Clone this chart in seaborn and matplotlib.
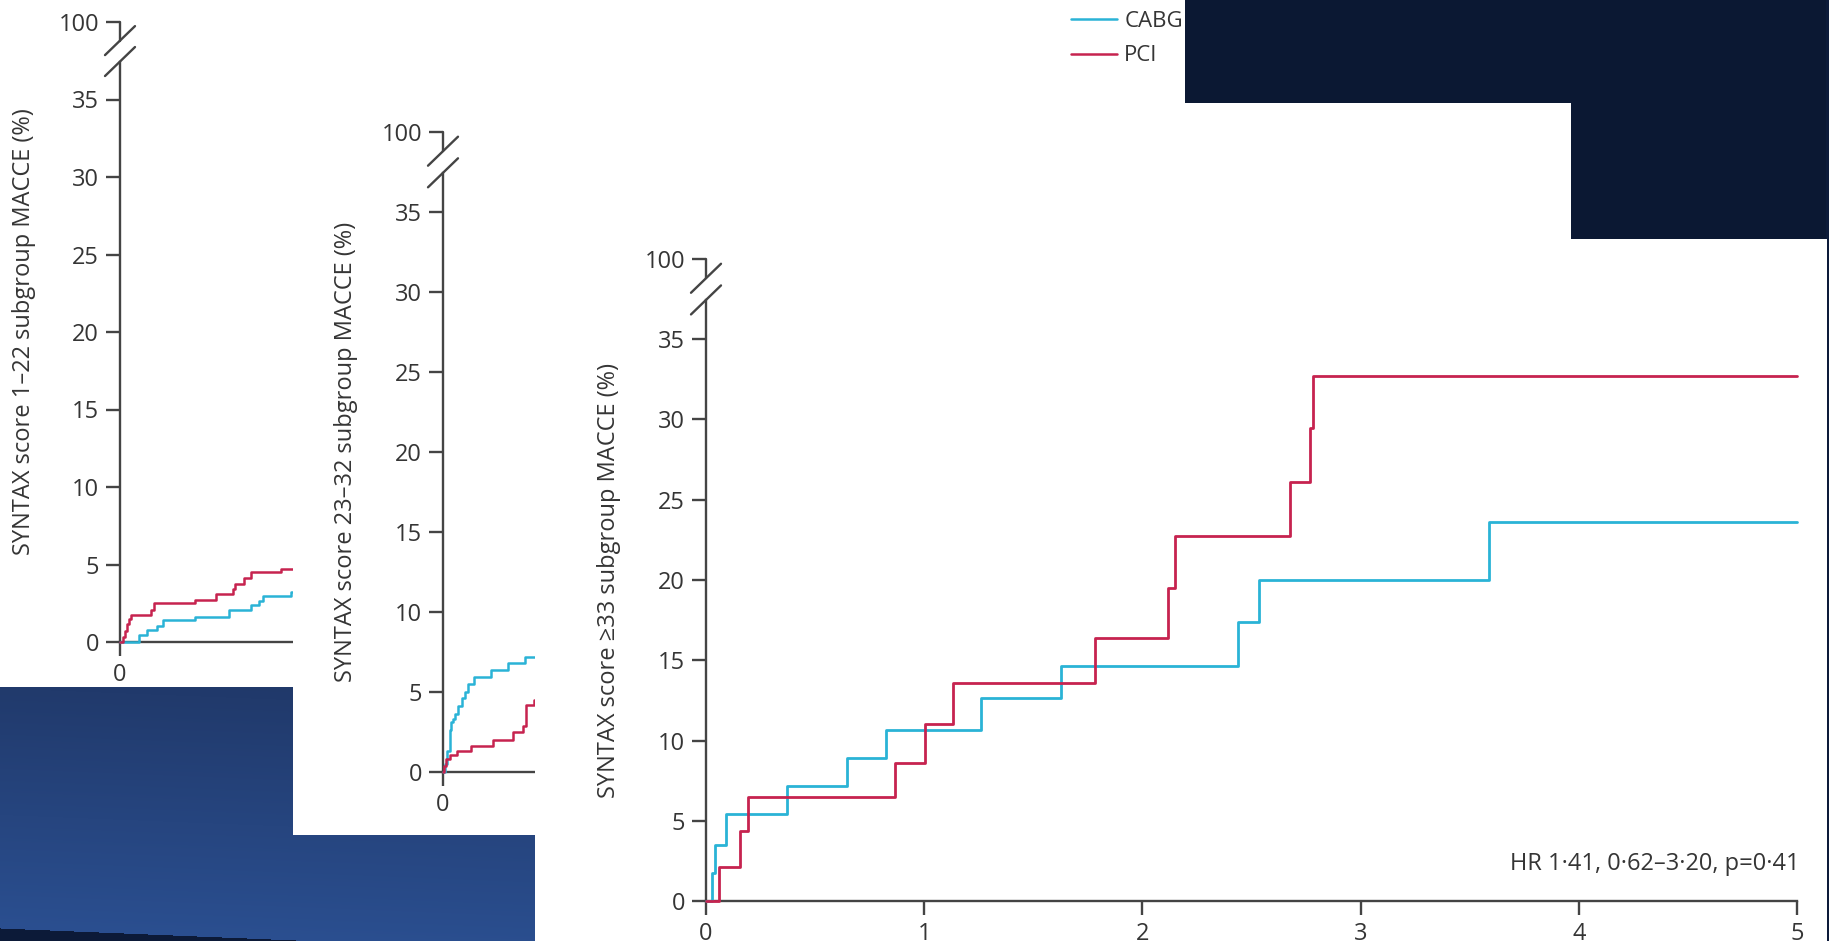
import numpy as np
import pandas as pd
import matplotlib
matplotlib.use("Agg")
import matplotlib.pyplot as plt
import matplotlib.transforms as mtransforms
from matplotlib.lines import Line2D
from matplotlib.patches import Rectangle
import seaborn as sns

# ---------------- data: cumulative MACCE (%) by years since randomisation ----------------
# SYNTAX score 1-22
low_cabg_t = [0, 0.091, 0.129, 0.174, 0.205, 0.355, 0.518, 0.621, 0.658, 0.678, 0.81, 0.85]
low_cabg_v = [0, 0.43, 0.78, 1.06, 1.41, 1.64, 2.04, 2.39, 2.67, 3.0, 3.2, 3.2]
low_pci_t = [0, 0.012, 0.022, 0.031, 0.042, 0.054, 0.145, 0.163, 0.355, 0.455, 0.536, 0.545, 0.589, 0.621, 0.766, 0.85]
low_pci_v = [0, 0.3, 0.7, 1.15, 1.5, 1.75, 2.05, 2.5, 2.7, 3.1, 3.4, 3.75, 4.1, 4.5, 4.7, 4.7]

# SYNTAX score 23-32
mid_cabg_t = [0, 0.008, 0.02, 0.03, 0.038, 0.047, 0.055, 0.07, 0.088, 0.1, 0.116, 0.14, 0.22, 0.295, 0.376, 0.45]
mid_cabg_v = [0, 0.5, 1.3, 2.6, 3.1, 3.3, 3.6, 4.1, 4.6, 5.0, 5.5, 5.95, 6.4, 6.8, 7.2, 7.2]
mid_pci_t = [0, 0.006, 0.012, 0.03, 0.065, 0.13, 0.229, 0.32, 0.365, 0.378, 0.415, 0.45]
mid_pci_v = [0, 0.4, 0.8, 1.05, 1.3, 1.65, 2.0, 2.5, 2.9, 4.2, 4.5, 4.5]

# SYNTAX score >=33
high_cabg_t = [0, 0.028, 0.042, 0.091, 0.373, 0.646, 0.824, 1.26, 1.627, 2.439, 2.534, 3.588, 5]
high_cabg_v = [0, 1.73, 3.5, 5.4, 7.14, 8.88, 10.66, 12.65, 14.67, 17.37, 19.97, 23.6, 23.6]
high_pci_t = [0, 0.061, 0.154, 0.191, 0.868, 1.003, 1.134, 1.781, 2.119, 2.149, 2.677, 2.768, 2.78, 5]
high_pci_v = [0, 2.14, 4.39, 6.5, 8.62, 11.0, 13.6, 16.38, 19.5, 22.76, 26.1, 29.46, 32.73, 32.73]

arms = ["CABG", "PCI"]
x_ticks = [0, 1, 2, 3, 4, 5]
y_ticks = [0, 5, 10, 15, 20, 25, 30, 35, 40]
y_tick_labels = ["0", "5", "10", "15", "20", "25", "30", "35", "100"]
ylabels = [
    "SYNTAX score 1–22 subgroup MACCE (%)",
    "SYNTAX score 23–32 subgroup MACCE (%)",
    "SYNTAX score ≥33 subgroup MACCE (%)",
]
hr_text = "HR 1·41, 0·62–3·20, p=0·41"

# ---------------- styling ----------------
PALETTE = {"CABG": "#2ab3d6", "PCI": "#c6234f"}
AX_COLOR = "#444444"
TXT_COLOR = "#353535"
BRK_LO, BRK_HI = 37.45, 38.8      # axis break between 35 and 100

sns.set_theme(style="ticks")
plt.rcParams["font.family"] = ["Open Sans", "DejaVu Sans"]

W, H = 1829, 941
fig = plt.figure(figsize=(W / 100, H / 100), dpi=100, facecolor="white")

# window rectangles (left, top, right, bottom) in pixels
WIN1 = (0, 0, 1185, 687)
WIN2 = (293, 103, 1571, 835)
WIN3 = (535, 239, 1827, 941)


def px_axes(left, right, y_zero, y_top, z):
    ax = fig.add_axes([left / W, (H - y_zero) / H, (right - left) / W, (y_zero - y_top) / H], zorder=z)
    ax.patch.set_alpha(0)
    return ax


def cover(win, z):
    x0, y0, x1, y1 = win
    fig.add_artist(Rectangle((x0 / W, (H - y1) / H), (x1 - x0) / W, (y1 - y0) / H,
                             transform=fig.transFigure, facecolor="white",
                             edgecolor="none", zorder=z))


def draw_panel(ax, cabg_t, cabg_v, pci_t, pci_v, ylabel, lw, label_dx_px):
    df = pd.concat([
        pd.DataFrame({"years": cabg_t, "macce": cabg_v, "arm": arms[0]}),
        pd.DataFrame({"years": pci_t, "macce": pci_v, "arm": arms[1]}),
    ], ignore_index=True)
    sns.lineplot(data=df, x="years", y="macce", hue="arm", palette=PALETTE,
                 drawstyle="steps-post", estimator=None, linewidth=lw,
                 legend=False, ax=ax, clip_on=False, zorder=3)
    ax.set_xlim(0, 5)
    ax.set_ylim(0, 40)
    ax.set_xticks(x_ticks)
    ax.set_xticklabels([str(v) for v in x_ticks])
    ax.set_yticks(y_ticks)
    ax.set_yticklabels(y_tick_labels)
    ax.set_xlabel("")
    ax.set_ylabel(ylabel, fontsize=17, color=TXT_COLOR)
    ax.yaxis.label.set_va("center")
    w_px = ax.get_position().width * W
    ax.yaxis.set_label_coords(-label_dx_px / w_px, 0.5)
    sns.despine(ax=ax)
    for side in ("left", "bottom"):
        ax.spines[side].set_color(AX_COLOR)
        ax.spines[side].set_linewidth(1.7)
    ax.spines["left"].set_bounds(0, BRK_LO)
    ax.axvline(0, ymin=BRK_HI / 40, ymax=1, color=AX_COLOR, lw=1.7, clip_on=False, zorder=2.5)
    ax.tick_params(axis="both", direction="out", length=10, width=1.7, color=AX_COLOR,
                   labelcolor=TXT_COLOR, labelsize=17)
    ax.tick_params(axis="y", pad=5)
    ax.tick_params(axis="x", pad=5)
    # break slashes
    for yc in (BRK_LO, BRK_HI):
        tr = fig.dpi_scale_trans + mtransforms.ScaledTranslation(0, yc, ax.transData)
        ax.add_line(Line2D([-0.15, 0.15], [-0.145, 0.145], transform=tr, color=AX_COLOR,
                           lw=1.7, clip_on=False))


ax1 = px_axes(120, 120 + 5 * 210.6, 642, 22, 2)
draw_panel(ax1, low_cabg_t, low_cabg_v, low_pci_t, low_pci_v, ylabels[0], 1.8, 96)
handles = [Line2D([], [], color=PALETTE[a], lw=1.8) for a in arms]
ax1.legend(handles, arms, loc="upper left", bbox_to_anchor=(1071 / W, 1 - 11 / H),
           bbox_transform=fig.transFigure, frameon=False, fontsize=16, borderpad=0,
           borderaxespad=0, handlelength=2.05, handletextpad=0.35, labelspacing=0.6,
           labelcolor=TXT_COLOR)

cover(WIN2, 3)
ax2 = px_axes(443, 443 + 5 * 218.7, 772, 132, 4)
draw_panel(ax2, mid_cabg_t, mid_cabg_v, mid_pci_t, mid_pci_v, ylabels[1], 1.8, 97)

cover(WIN3, 5)
ax3 = px_axes(706, 1797, 901, 259, 6)
draw_panel(ax3, high_cabg_t, high_cabg_v, high_pci_t, high_pci_v, ylabels[2], 2.0, 97)
ax3.tick_params(axis="x", pad=5)
ax3.text(5.01, 2.3, hr_text, ha="right", va="center", fontsize=17, color=TXT_COLOR)

# ---------------- backdrop around the windows ----------------
yy, xx = np.mgrid[0:H, 0:W]
s = yy - 0.04 * xx
stops = [250, 688, 941]
cols = np.array([[11, 24, 51], [33, 58, 108], [43, 80, 146]]) / 255.0
rgb = np.stack([np.interp(s, stops, cols[:, k]) for k in range(3)], axis=-1)
rgb[:, W - 3:] = np.array([13, 27, 58]) / 255.0
swoosh = (xx < 320) & (yy >= 928 + xx * (13 / 320))
rgb[swoosh] = np.array([12, 26, 56]) / 255.0
inside = np.zeros((H, W), dtype=bool)
for x0, y0, x1, y1 in (WIN1, WIN2, WIN3):
    inside[y0:y1, x0:x1] = True
rgba = np.dstack([rgb, (~inside).astype(float)])

bg = fig.add_axes([0, 0, 1, 1], zorder=10)
bg.imshow(rgba, extent=(0, W, H, 0), aspect="auto", interpolation="nearest")
bg.set_xlim(0, W)
bg.set_ylim(H, 0)
bg.axis("off")

fig.savefig("out.png", dpi=100, facecolor="white")
